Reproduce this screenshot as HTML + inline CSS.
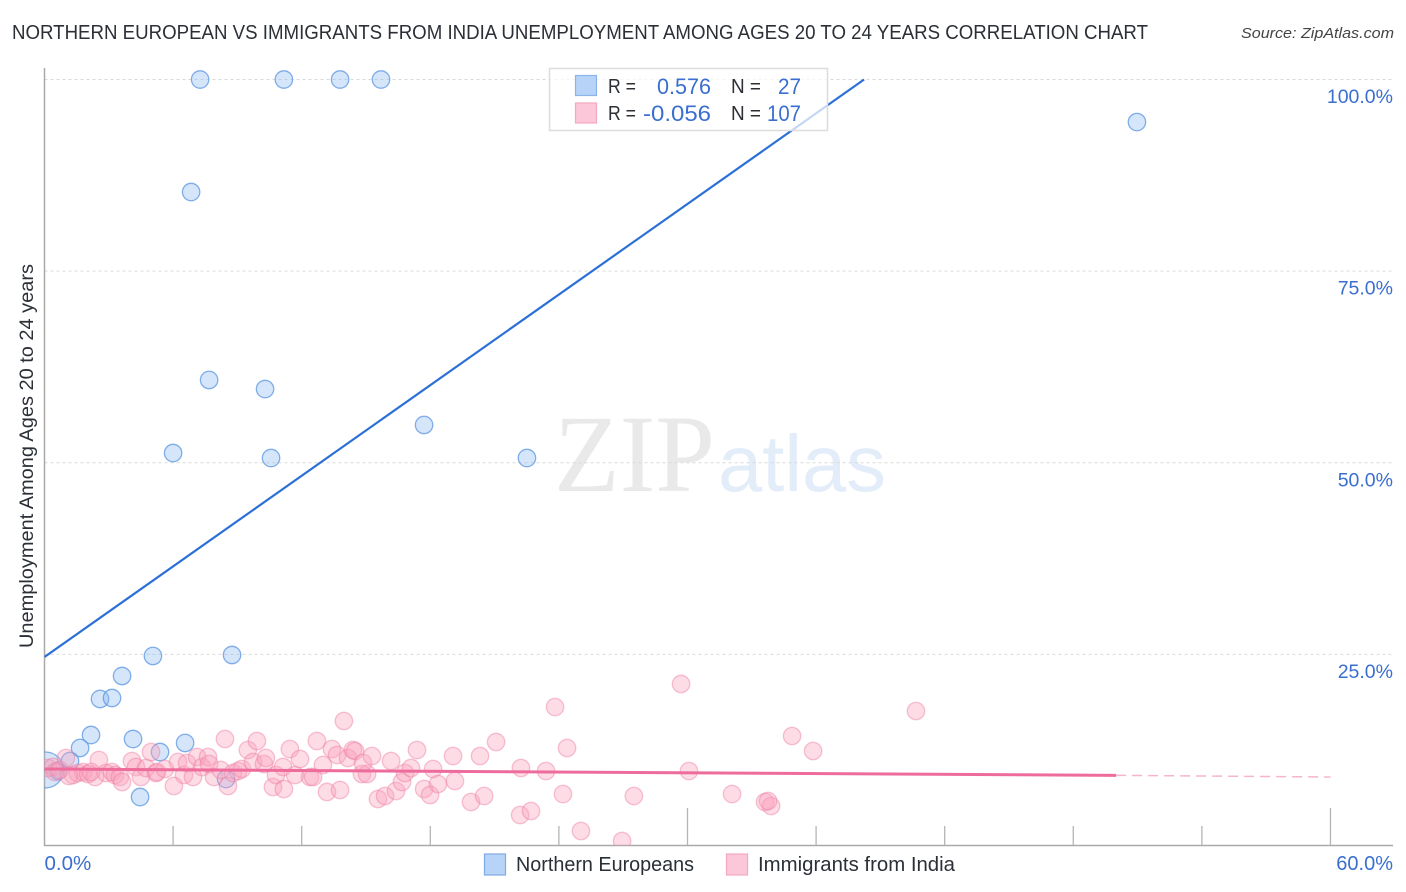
<!DOCTYPE html>
<html lang="en">
<head>
<meta charset="utf-8">
<title>Northern European vs Immigrants from India Unemployment Correlation Chart</title>
<style>
html,body{margin:0;padding:0;background:#fff;width:1406px;height:892px;overflow:hidden}
svg{display:block;font-family:"Liberation Sans",sans-serif}
</style>
</head>
<body>
<svg id="chart" width="1406" height="892" viewBox="0 0 1406 892" xmlns="http://www.w3.org/2000/svg">
  <defs><clipPath id="plot-clip"><rect x="44.5" y="60" width="1349" height="785.5"/></clipPath></defs>
  <rect width="1406" height="892" fill="#fff"/>
  <text x="12" y="39" font-size="20" fill="#2b2f36" textLength="1136" lengthAdjust="spacingAndGlyphs">NORTHERN EUROPEAN VS IMMIGRANTS FROM INDIA UNEMPLOYMENT AMONG AGES 20 TO 24 YEARS CORRELATION CHART</text>
  <text x="1241" y="38" font-size="15" font-style="italic" fill="#444" textLength="153" lengthAdjust="spacingAndGlyphs">Source: ZipAtlas.com</text>
  <g>
    <text x="554" y="491" font-family="'Liberation Serif',serif" font-size="110" fill="#e9e9e9" textLength="161" lengthAdjust="spacingAndGlyphs">ZIP</text>
    <text x="718" y="491" font-size="80" fill="#e3ecf9" textLength="168" lengthAdjust="spacingAndGlyphs">atlas</text>
  </g>
  <g id="grid"></g>
  <g id="axes"></g>
  <g id="labels"></g>
  <g id="marks" clip-path="url(#plot-clip)"></g>
  <text transform="translate(33,456) rotate(-90)" text-anchor="middle" font-size="19" fill="#2b2f36" textLength="384" lengthAdjust="spacingAndGlyphs">Unemployment Among Ages 20 to 24 years</text>

  <g>
    <rect x="549.5" y="68.5" width="278" height="62" fill="#fff" fill-opacity="0.72" stroke="#dcdcdc" stroke-width="1.5"/>
    <rect x="575.5" y="75.5" width="21" height="20" fill="#b7d3f7" stroke="#8ab4ea" stroke-width="1.2"/>
    <rect x="575.5" y="103" width="21" height="20" fill="#fcc7d8" stroke="#f3a9c0" stroke-width="1.2"/>
    <g font-size="20" fill="#2b2f36">
      <text x="608" y="93" textLength="28" lengthAdjust="spacingAndGlyphs">R =</text>
      <text x="608" y="120" textLength="28" lengthAdjust="spacingAndGlyphs">R =</text>
      <text x="731" y="93" textLength="30" lengthAdjust="spacingAndGlyphs">N =</text>
      <text x="731" y="120" textLength="30" lengthAdjust="spacingAndGlyphs">N =</text>
    </g>
    <g font-size="22" fill="#3a6fcf">
      <text x="657" y="94" textLength="54" lengthAdjust="spacingAndGlyphs">0.576</text>
      <text x="643" y="121" textLength="68" lengthAdjust="spacingAndGlyphs">-0.056</text>
      <text x="778" y="94" textLength="23" lengthAdjust="spacingAndGlyphs">27</text>
      <text x="767" y="121" textLength="34" lengthAdjust="spacingAndGlyphs">107</text>
    </g>
  </g>

  <g>
    <rect x="484.5" y="854" width="21" height="21" fill="#b7d3f7" stroke="#7fabe6" stroke-width="1.2"/>
    <text x="516" y="871" font-size="20" fill="#2b2f36" textLength="178" lengthAdjust="spacingAndGlyphs">Northern Europeans</text>
    <rect x="726.5" y="854" width="21" height="21" fill="#fcc7d8" stroke="#f3a9c0" stroke-width="1.2"/>
    <text x="758" y="871" font-size="20" fill="#2b2f36" textLength="197" lengthAdjust="spacingAndGlyphs">Immigrants from India</text>
  </g>
</svg>
<script>
const yTickValues = [25, 50, 75, 100];
const yTickLabels = ['25.0%', '50.0%', '75.0%', '100.0%'];
const xTickValues = [0, 6, 12, 18, 24, 30, 36, 42, 48, 54, 60];
const xEdgeValues = [0, 60];
const xEdgeLabels = ['0.0%', '60.0%'];

const blueX = [7.26,11.17,13.79,15.70,50.97,6.84,7.68,10.29,17.71,6.00,10.57,22.51,5.06,8.75,3.62,2.59,3.15,2.17,1.66,4.13,6.56,5.39,1.19,4.46,8.47,0.63,0.05];
const blueY = [100,100,100,100,94.45,85.32,60.80,59.62,54.93,51.27,50.62,50.62,24.79,24.92,22.18,19.18,19.31,14.48,12.79,13.96,13.44,12.26,11.09,6.39,8.74,9.78,9.92];
const blueWeight = [1,1,1,1,1,1,1,1,1,1,1,1,1,1,1,1,1,1,1,1,1,1,1,1,1,1,4.3];

const pinkX = [0.16,0.40,0.49,0.72,1.00,1.33,1.56,1.80,2.03,2.36,2.54,2.87,3.15,3.29,3.52,3.62,4.08,4.27,4.50,4.74,4.97,5.20,5.25,5.62,6.04,6.23,6.51,6.65,6.93,7.12,7.35,7.63,7.68,7.91,8.23,8.42,8.56,8.79,9.03,9.21,9.49,9.73,9.91,10.24,10.33,10.66,10.80,11.13,11.17,11.45,11.69,11.92,12.39,12.53,12.71,12.99,13.18,13.41,13.65,13.79,13.97,14.16,14.39,14.49,14.81,15.05,14.86,15.28,15.56,15.89,16.17,16.40,16.68,16.82,17.10,17.38,17.71,17.99,18.13,18.36,19.06,19.15,19.90,20.32,20.51,21.07,22.19,22.23,22.70,23.40,23.82,24.19,24.38,25.03,26.95,27.50,29.70,30.07,32.08,33.62,33.90,33.76,34.88,35.86,40.66,1.14,2.17];
const pinkY = [10.18,10.31,9.65,9.92,11.48,9.26,9.52,9.65,9.39,9.00,11.22,9.52,9.65,9.26,9.00,8.35,11.09,10.31,9.00,10.18,12.26,9.52,9.65,10.05,7.83,10.96,9.26,10.83,9.00,11.61,10.31,11.61,10.70,9.00,9.92,13.96,7.83,9.52,9.78,10.05,12.52,10.96,13.70,10.70,11.48,7.70,9.26,10.31,7.44,12.65,9.26,11.35,9.00,9.00,13.70,10.57,7.05,12.65,11.87,7.31,16.31,11.48,12.52,12.39,9.39,9.39,10.83,11.74,6.13,6.52,11.09,7.18,8.35,9.52,10.18,12.52,7.44,6.65,10.05,8.09,11.74,8.48,5.74,11.74,6.52,13.57,4.04,10.18,4.57,9.78,18.13,6.78,12.79,1.96,0.65,6.52,21.14,9.78,6.78,5.74,5.22,5.87,14.35,12.39,17.61,9.13,9.65];

const blueTrendX = [0, 38.24];
const blueTrendY = [24.66, 100];
const pinkTrendX = [0, 50];
const pinkTrendY = [10.05, 9.22];
const pinkTrendDashX = [50, 60];
const pinkTrendDashY = [9.22, 9.0];

const xScale = v => 44.5 + v * 21.433;
const yScale = v => 846 - v * 7.665;
const NS = 'http://www.w3.org/2000/svg';
const grid = document.getElementById('grid');
const axes = document.getElementById('axes');
const labels = document.getElementById('labels');
const marks = document.getElementById('marks');

function make(tag, attrs, parent, text) {
  const el = document.createElementNS(NS, tag);
  for (const k in attrs) el.setAttribute(k, attrs[k]);
  if (text !== undefined) el.textContent = text;
  parent.appendChild(el);
  return el;
}

yTickValues.forEach((v, i) => {
  const line = make('line', {x1: 44.5, x2: 1393, y1: yScale(v), y2: yScale(v), stroke: '#dadada', 'stroke-width': 1, 'stroke-dasharray': '3 3'}, grid);
  
  
  const label = make('text', {x: 1393, y: yScale(v) + 23.5, 'text-anchor': 'end', 'font-size': 19.5, fill: '#3a6fcf'}, labels, yTickLabels[i]);
  
  
});

const yAxis = make('line', {x1: 44.5, x2: 44.5, y1: 68, y2: 846, stroke: '#a9a9a9', 'stroke-width': 1.5}, axes);


const xAxis = make('line', {x1: 44, x2: 1393, y1: 845.5, y2: 845.5, stroke: '#a9a9a9', 'stroke-width': 1.5}, axes);



xTickValues.slice(1).forEach(v => {
  const top = v % 30 === 0 ? 808 : 826;
  const tick = make('line', {x1: xScale(v), x2: xScale(v), y1: top, y2: 845, stroke: '#b5b5b5', 'stroke-width': 1.3}, axes);
  
  
});

xEdgeValues.forEach((v, i) => {
  const isFirst = i === 0;
  const label = make('text', {x: isFirst ? xScale(v) : 1393, y: 870, 'text-anchor': isFirst ? 'start' : 'end', 'font-size': isFirst ? 20.5 : 20, fill: '#3a6fcf'}, labels, xEdgeLabels[i]);
  
  
});

blueX.forEach((x, i) => {
  const c = make('circle', {cx: xScale(x), cy: yScale(blueY[i]), r: 8.7 * blueWeight[i] * (blueWeight[i] > 1 ? 0.48 : 1), fill: '#8ab8f2', 'fill-opacity': 0.36, stroke: '#5a96e2', 'stroke-opacity': 0.75, 'stroke-width': 1.3}, marks);
  
  
});

pinkX.forEach((x, i) => {
  const c = make('circle', {cx: xScale(x), cy: yScale(pinkY[i]), r: 8.7, fill: '#f9a3bd', 'fill-opacity': 0.38, stroke: '#ee7fa4', 'stroke-opacity': 0.45, 'stroke-width': 1.4}, marks);
  
  
});

const blueTrend = make('line', {x1: xScale(blueTrendX[0]), y1: yScale(blueTrendY[0]), x2: xScale(blueTrendX[1]), y2: yScale(blueTrendY[1]), stroke: '#2b70d6', 'stroke-width': 2.2}, marks);



const pinkTrend = make('line', {x1: xScale(pinkTrendX[0]), y1: yScale(pinkTrendY[0]), x2: xScale(pinkTrendX[1]), y2: yScale(pinkTrendY[1]), stroke: '#ee6c9b', 'stroke-width': 3}, marks);



const pinkDash = make('line', {x1: xScale(pinkTrendDashX[0]), y1: yScale(pinkTrendDashY[0]), x2: xScale(pinkTrendDashX[1]), y2: yScale(pinkTrendDashY[1]), stroke: '#ee6c9b', 'stroke-opacity': 0.5, 'stroke-width': 1.5, 'stroke-dasharray': '10 6'}, marks);


</script>
</body>
</html>
